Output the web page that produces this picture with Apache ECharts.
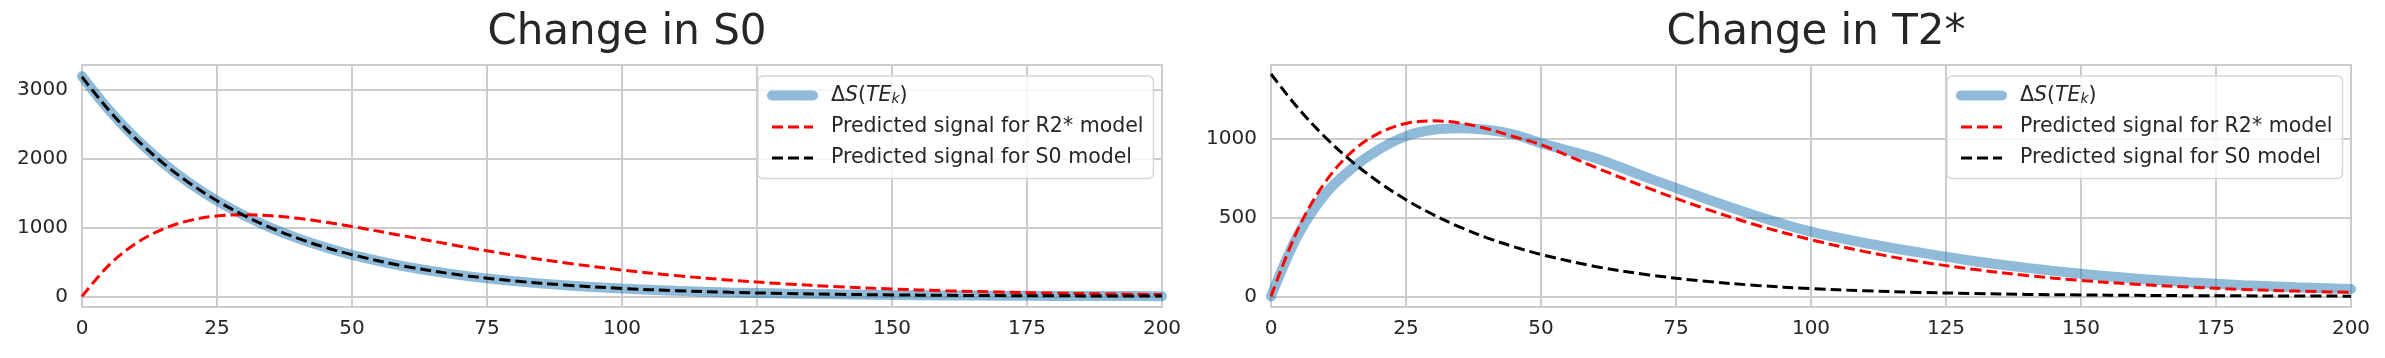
<!DOCTYPE html>
<html><head><meta charset="utf-8">
<script src="https://cdn.jsdelivr.net/npm/echarts@6/dist/echarts.min.js"></script>
<style>html,body{margin:0;padding:0;background:#fff}#c{width:2385px;height:358px}</style>
</head><body><div id="c"></div>
<script>
// echo time TE (ms)
const te = [0,5,10,15,20,25,30,35,40,45,50,60,70,80,90,100,110,120,130,140,150,160,170,180,190,200];
// Panel 1: Change in S0
const s0Measured = [3190,2700,2286,1935,1638,1386,1174,993,841,712,603,432,309,222,159,114,82,58,42,30,21,15,11,8,6,4];
const s0PredR2   = [0,454,769,976,1102,1166,1184,1169,1131,1077,1013,871,728,596,481,383,302,236,183,141,108,83,63,48,36,27];
const s0PredS0   = [3180,2695,2282,1932,1636,1385,1173,993,841,712,604,433,311,224,161,116,84,60,43,31,22,16,12,9,7,5];
// Panel 2: Change in T2*
const t2Measured = [0,390,650,815,935,1020,1060,1070,1060,1030,975,880,752,628,512,412,340,280,226,182,145,115,91,72,58,47];
const t2PredR2   = [0,428,725,921,1039,1100,1117,1103,1067,1016,965,822,687,563,453,361,285,222,173,133,102,78,60,45,34,26];
const t2PredS0   = [1415,1198,1014,858,726,615,521,441,373,316,267,191,137,98,70,50,36,26,19,13,10,7,5,4,3,2];

const xTicks = [0,25,50,75,100,125,150,175,200];
const yTicksS0 = [0,1000,2000,3000];
const yTicksT2 = [0,500,1000];
const titles = ['Change in S0', 'Change in T2*'];
const names = ['ΔS(TEk)', 'Predicted signal for R2* model', 'Predicted signal for S0 model'];

const FONT = 'DejaVu Sans';
const TXT = '#262626';
const GRID = '#cccccc';

const pair = (ys) => te.map((t, i) => [t, ys[i]]);

const grids = [
  {left: 82, top: 65, width: 1080, height: 242},
  {left: 1271, top: 65, width: 1080, height: 242}
];
const yRanges = [[-153, 3352], [-67, 1472]];
const yTickSets = [yTicksS0, yTicksT2];
const panelData = [[s0Measured, s0PredR2, s0PredS0], [t2Measured, t2PredR2, t2PredS0]];

const styles = [
  {color: 'rgba(31,119,180,0.5)', width: 10, type: 'solid', cap: 'round'},
  {color: '#ff0000', width: 3, type: [11, 5], cap: 'butt'},
  {color: '#000000', width: 3, type: [11, 5], cap: 'butt'}
];
const legendColors = ['#8fbbd9', '#ff0000', '#000000'];

const option = {
  animation: false,
  backgroundColor: '#ffffff',
  title: titles.map((t, i) => ({
    text: t,
    left: grids[i].left + grids[i].width / 2,
    textAlign: 'center',
    top: 7,
    textStyle: {fontFamily: FONT, fontSize: 42, fontWeight: 'normal', color: TXT}
  })),
  grid: grids.map(g => Object.assign({show: true, borderColor: GRID, borderWidth: 2, backgroundColor: 'transparent'}, g)),
  xAxis: grids.map((g, i) => ({
    type: 'value', gridIndex: i, min: 0, max: 200, interval: 25,
    axisLine: {show: false}, axisTick: {show: false},
    splitLine: {show: true, lineStyle: {color: GRID, width: 2}},
    axisLabel: {fontFamily: FONT, fontSize: 20, color: TXT, margin: 12, formatter: v => String(v)}
  })),
  yAxis: grids.map((g, i) => ({
    type: 'value', gridIndex: i, min: yRanges[i][0], max: yRanges[i][1],
    axisLine: {show: false},
    axisTick: {show: false, customValues: yTickSets[i]},
    splitLine: {show: true, lineStyle: {color: GRID, width: 2}},
    axisLabel: {fontFamily: FONT, fontSize: 20, color: TXT, margin: 14, customValues: yTickSets[i], formatter: v => String(v)}
  })),
  legend: grids.map((g, i) => ({
    data: names.map((n, k) => ({
      name: n,
      itemStyle: {color: 'rgba(0,0,0,0)', borderWidth: 0},
      lineStyle: {color: legendColors[k], width: styles[k].width, type: styles[k].type, cap: styles[k].cap, opacity: 1}
    })),
    orient: 'vertical',
    left: i === 0 ? 758 : 1947,
    top: 76,
    padding: [9, 10, 10, 9],
    itemGap: 10,
    itemWidth: 41,
    itemHeight: 14,
    backgroundColor: 'rgba(255,255,255,0.8)',
    borderColor: '#d6d6d6',
    borderWidth: 1.5,
    borderRadius: 5,
    selectedMode: false,
    textStyle: {
      fontFamily: FONT, fontSize: 20.5, color: TXT, padding: [0, 0, 0, 13],
      rich: {
        n: {fontFamily: FONT, fontSize: 20.5, color: TXT, lineHeight: 22},
        i: {fontFamily: FONT, fontSize: 20.5, color: TXT, fontStyle: 'italic', lineHeight: 22},
        s: {fontFamily: FONT, fontSize: 14, color: TXT, fontStyle: 'italic', lineHeight: 14, verticalAlign: 'bottom'}
      }
    },
    formatter: (name) => name === names[0] ? '{n|Δ}{i|S}{n|(}{i|TE}{s|k}{n|)}' : name
  })),
  series: []
};

grids.forEach((g, gi) => {
  panelData[gi].forEach((ys, si) => {
    const st = styles[si];
    option.series.push({
      name: names[si], type: 'line', xAxisIndex: gi, yAxisIndex: gi,
      data: pair(ys), showSymbol: false, symbol: 'circle', symbolSize: 0,
      smooth: 0.35,
      lineStyle: {color: st.color, width: st.width, type: st.type, cap: st.cap},
      itemStyle: {color: 'rgba(0,0,0,0)'},
      emphasis: {disabled: true},
      z: 2 + si
    });
  });
});

const chart = echarts.init(document.getElementById('c'), null, {renderer: 'canvas', devicePixelRatio: 1});
chart.setOption(option);
</script>
</body></html>
